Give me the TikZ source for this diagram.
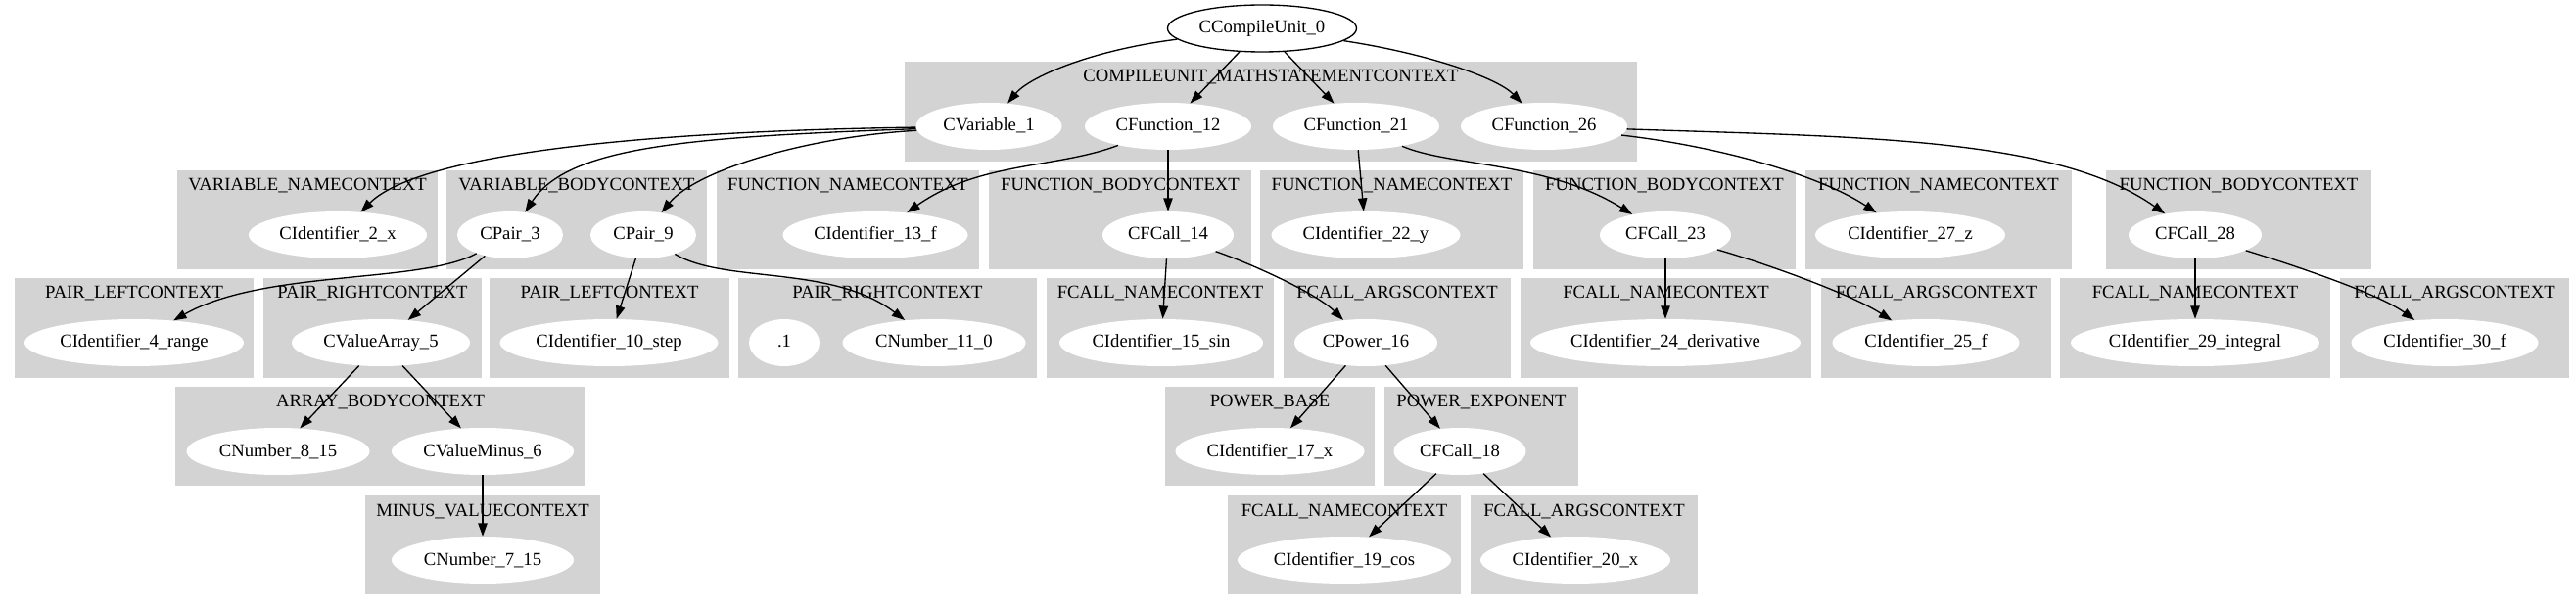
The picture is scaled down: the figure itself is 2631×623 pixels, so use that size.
\documentclass[tikz,border=0pt]{standalone}
\usepackage{fontspec}
\setmainfont{Liberation Serif}
\usetikzlibrary{arrows.meta,shapes.geometric}

\definecolor{clustergray}{HTML}{D3D3D3}
\newcommand{\gvfont}{\fontsize{14}{16.8}\selectfont}

\begin{document}
\begin{tikzpicture}[x=0.75pt, y=-0.75pt,
	cluster/.style={fill=clustergray, draw=none},
	clusterlabel/.style={anchor=base, inner sep=0pt, font=\gvfont},
	gvnode/.style={ellipse, fill=white, minimum height=36pt, inner xsep=0pt, inner ysep=0pt,
		text height=7.5pt, text depth=0pt, font=\gvfont},
	rootnode/.style={gvnode, draw=black, line width=1pt},
	gvedge/.style={-{Triangle[length=10pt, width=7pt]}, line width=1pt}]

	% ---- page

	\useasboundingbox (0,0) rectangle (2631,623);

	% ---- clusters

	\foreach \xa/\ya/\xb/\yb/\lab in {
		924/63/1672/165/COMPILEUNIT\_MATHSTATEMENTCONTEXT,
		181/174/447/275/VARIABLE\_NAMECONTEXT,
		456/174/722/275/VARIABLE\_BODYCONTEXT,
		732/174/1000/275/FUNCTION\_NAMECONTEXT,
		1010/174/1278/275/FUNCTION\_BODYCONTEXT,
		1287/174/1556/275/FUNCTION\_NAMECONTEXT,
		1566/174/1834/275/FUNCTION\_BODYCONTEXT,
		1844/174/2116/275/FUNCTION\_NAMECONTEXT,
		2151/174/2422/275/FUNCTION\_BODYCONTEXT,
		15/284/259/386/PAIR\_LEFTCONTEXT,
		269/284/492/386/PAIR\_RIGHTCONTEXT,
		500/284/745/386/PAIR\_LEFTCONTEXT,
		754/284/1059/386/PAIR\_RIGHTCONTEXT,
		1069/284/1301/386/FCALL\_NAMECONTEXT,
		1311/284/1543/386/FCALL\_ARGSCONTEXT,
		1553/284/1850/386/FCALL\_NAMECONTEXT,
		1860/284/2095/386/FCALL\_ARGSCONTEXT,
		2104/284/2380/386/FCALL\_NAMECONTEXT,
		2390/284/2624/386/FCALL\_ARGSCONTEXT,
		179/395/598/496/ARRAY\_BODYCONTEXT,
		1190/395/1404/496/POWER\_BASE,
		1414/395/1612/496/POWER\_EXPONENT,
		373/506/613/607/MINUS\_VALUECONTEXT,
		1254/506/1492/607/FCALL\_NAMECONTEXT,
		1502/506/1734/607/FCALL\_ARGSCONTEXT} {
		\fill[cluster] (\xa,\ya) rectangle (\xb,\yb);
		\node[clusterlabel] at ({(\xa+\xb)/2},{\ya+21}) {\lab};
	}

	% ---- nodes

	\node[rootnode, minimum width=193*0.75pt] (c0) at (1289,29) {CCompileUnit\_0};

	\foreach \name/\x/\y/\w/\txt in {
		v1/1010/129/149/CVariable\_1,
		f12/1193/129/170/CFunction\_12,
		f21/1385/129/170/CFunction\_21,
		f26/1577/129/170/CFunction\_26,
		id2/345/240/182/CIdentifier\_2\_x,
		p3/521/240/108/CPair\_3,
		p9/657/240/108/CPair\_9,
		id13/894/240/189/CIdentifier\_13\_f,
		fc14/1193/240/134/CFCall\_14,
		id22/1395/240/193/CIdentifier\_22\_y,
		fc23/1701/240/134/CFCall\_23,
		id27/1951/240/194/CIdentifier\_27\_z,
		fc28/2242/240/136/CFCall\_28,
		id4/137/350/224/CIdentifier\_4\_range,
		va5/389/350/182/CValueArray\_5,
		id10/622/350/223/CIdentifier\_10\_step,
		dot1/801/350/72/.1,
		n11/954/350/187/CNumber\_11\_0,
		id15/1186/350/208/CIdentifier\_15\_sin,
		pw16/1395/350/146/CPower\_16,
		id24/1701/350/276/CIdentifier\_24\_derivative,
		id25/1967/350/191/CIdentifier\_25\_f,
		id29/2242/350/254/CIdentifier\_29\_integral,
		id30/2497/350/191/CIdentifier\_30\_f,
		n8/284/461/187/CNumber\_8\_15,
		vm6/493/461/186/CValueMinus\_6,
		id17/1297/461/193/CIdentifier\_17\_x,
		fc18/1491/461/135/CFCall\_18,
		n7/493/572/186/CNumber\_7\_15,
		id19/1373/572/218/CIdentifier\_19\_cos,
		id20/1609/572/194/CIdentifier\_20\_x} {
		\node[gvnode, minimum width=\w*0.75pt] (\name) at (\x,\y) {\txt};
	}

	% ---- edges from the compile unit

	\draw[gvedge] (c0) .. controls (1110,52) and (1050,80) .. (v1);
	\draw[gvedge] (c0) -- (f12);
	\draw[gvedge] (c0) -- (f21);
	\draw[gvedge] (c0) .. controls (1460,55) and (1530,80) .. (f26);

	% ---- variable

	\draw[gvedge] (v1) .. controls (600,135) and (420,165) .. (id2);
	\draw[gvedge] (v1) .. controls (700,140) and (580,150) .. (p3);
	\draw[gvedge] (v1) .. controls (820,140) and (710,175) .. (p9);

	\draw[gvedge] (p3) .. controls (430,290) and (270,275) .. (id4);
	\draw[gvedge] (p3) -- (va5);
	\draw[gvedge] (va5) -- (n8);
	\draw[gvedge] (va5) -- (vm6);
	\draw[gvedge] (vm6) -- (n7);

	\draw[gvedge] (p9) -- (id10);
	\draw[gvedge] (p9) .. controls (740,290) and (850,270) .. (n11);

	% ---- functions

	\draw[gvedge] (f12) .. controls (1080,172) and (1000,165) .. (id13);
	\draw[gvedge] (f12) -- (fc14);
	\draw[gvedge] (fc14) -- (id15);
	\draw[gvedge] (fc14) .. controls (1280,270) and (1345,300) .. (pw16);
	\draw[gvedge] (pw16) -- (id17);
	\draw[gvedge] (pw16) -- (fc18);
	\draw[gvedge] (fc18) -- (id19);
	\draw[gvedge] (fc18) -- (id20);

	\draw[gvedge] (f21) -- (id22);
	\draw[gvedge] (f21) .. controls (1480,170) and (1580,165) .. (fc23);
	\draw[gvedge] (fc23) -- (id24);
	\draw[gvedge] (fc23) .. controls (1800,268) and (1890,300) .. (id25);

	\draw[gvedge] (f26) .. controls (1760,150) and (1860,180) .. (id27);
	\draw[gvedge] (f26) .. controls (1900,140) and (2100,140) .. (fc28);
	\draw[gvedge] (fc28) -- (id29);
	\draw[gvedge] (fc28) .. controls (2340,270) and (2430,300) .. (id30);

\end{tikzpicture}
\end{document}
